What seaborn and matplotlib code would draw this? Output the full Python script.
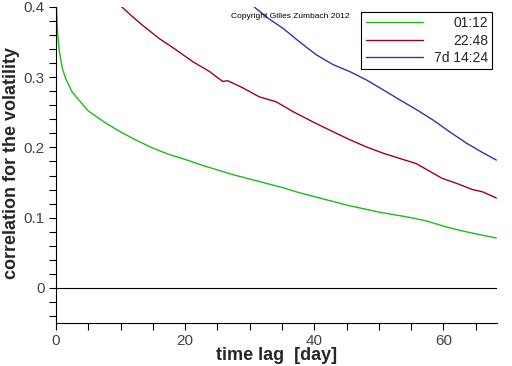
import matplotlib
matplotlib.use("Agg")
import matplotlib.pyplot as plt
from matplotlib.ticker import MultipleLocator
import seaborn as sns
import pandas as pd

# ---- data ----
green_x = [0.05, 0.1, 0.25, 0.5, 1.0, 1.5, 2.5, 3.5, 5, 7.5, 10, 12.5, 15, 17.5, 20,
           22.5, 25, 27.5, 30, 32.5, 35, 37.5, 40, 42.5, 45, 47.5, 50, 52.5, 55,
           57.5, 60, 62.5, 65, 68.2]
green_y = [0.42, 0.395, 0.363, 0.338, 0.312, 0.298, 0.279, 0.268, 0.252, 0.236, 0.222,
           0.21, 0.199, 0.19, 0.183, 0.175, 0.168, 0.161, 0.155, 0.149, 0.143, 0.136,
           0.13, 0.124, 0.118, 0.113, 0.108, 0.104, 0.1, 0.095, 0.088, 0.082, 0.077,
           0.071]
red_x = [10.2, 12, 13.4, 16, 18.6, 21.2, 23.8, 25.8, 26.6, 28.9, 31.5, 34.1, 36.7,
         40.3, 43, 45.5, 48, 50.6, 53, 55.8, 57.5, 59.8, 62, 64.5, 66, 68.2]
red_y = [0.40, 0.385, 0.374, 0.355, 0.339, 0.322, 0.308, 0.294, 0.295, 0.285, 0.272,
         0.265, 0.251, 0.234, 0.222, 0.211, 0.201, 0.192, 0.185, 0.177, 0.168, 0.156,
         0.149, 0.14, 0.137, 0.128]
blue_x = [30.7, 33, 35.1, 37.5, 40.3, 42.9, 45.5, 48.1, 50.5, 53.2, 55.8, 58.4, 61,
          63.6, 66, 68.2]
blue_y = [0.40, 0.383, 0.37, 0.352, 0.332, 0.318, 0.308, 0.296, 0.283, 0.268, 0.254,
          0.239, 0.222, 0.206, 0.193, 0.182]
series_labels = ["01:12", "22:48", "7d 14:24"]
series_colors = ["#1fb81f", "#a0001e", "#3333aa"]
x_ticks = [0, 20, 40, 60]
y_ticks = [0, 0.1, 0.2, 0.3, 0.4]
y_tick_labels = ["0", "0.1", "0.2", "0.3", "0.4"]

df = pd.concat([
    pd.DataFrame({"lag": green_x, "corr": green_y, "series": series_labels[0]}),
    pd.DataFrame({"lag": red_x, "corr": red_y, "series": series_labels[1]}),
    pd.DataFrame({"lag": blue_x, "corr": blue_y, "series": series_labels[2]}),
], ignore_index=True)

sns.set_style("white")
plt.rcParams["font.family"] = ["Liberation Sans", "DejaVu Sans"]

fig = plt.figure(figsize=(5.12, 3.66), dpi=100)
ax = fig.add_axes([56 / 512, 1 - 323 / 366, (497 - 56) / 512, (323 - 7) / 366])

sns.lineplot(data=df, x="lag", y="corr", hue="series", hue_order=series_labels,
             palette=series_colors, linewidth=1.0, ax=ax, sort=False,
             estimator=None, legend=True)

ax.axhline(0, color="black", linewidth=0.8)
ax.set_xlim(0, 68.3)
ax.set_ylim(-0.05, 0.4)
ax.set_xticks(x_ticks)
ax.set_yticks(y_ticks)
ax.set_yticklabels(y_tick_labels)
ax.xaxis.set_minor_locator(MultipleLocator(5))
ax.yaxis.set_minor_locator(MultipleLocator(0.02))
for axis in (ax.xaxis, ax.yaxis):
    axis.set_tick_params(which="both", direction="out", length=5, width=0.8,
                         color="black")
ax.tick_params(axis="x", which="major", labelsize=11, pad=3, labelcolor="#444444")
ax.tick_params(axis="y", which="major", labelsize=11, pad=3, labelcolor="#444444")
ax.tick_params(bottom=True, left=True, which="both")
for s in ["top", "right"]:
    ax.spines[s].set_visible(False)
for s in ["left", "bottom"]:
    ax.spines[s].set_color("black")
    ax.spines[s].set_linewidth(0.8)

ax.set_xlabel("time lag  [day]", fontsize=13, fontweight="bold", va="center")
ax.set_ylabel("correlation for the volatility", fontsize=13, fontweight="bold",
              va="center")
ax.xaxis.set_label_coords((277 - 56) / 441, (323 - 356) / 316)
ax.yaxis.set_label_coords((12 - 56) / 441, (323 - 163) / 316)

# legend
handles, labels = ax.get_legend_handles_labels()
leg = ax.legend(handles, labels, loc="upper right",
                bbox_to_anchor=(492 / 512, 1 - 12 / 366),
                bbox_transform=fig.transFigure, borderaxespad=0,
                fancybox=False, framealpha=1, edgecolor="black", fontsize=10,
                handlelength=4.1, handletextpad=0.8, labelspacing=0.25,
                borderpad=0.3)
leg.get_frame().set_linewidth(0.8)
for line in leg.get_lines():
    line.set_linewidth(1.0)
fig.canvas.draw()
renderer = fig.canvas.get_renderer()
texts = leg.get_texts()
widths = [t.get_window_extent(renderer).width for t in texts]
w = max(widths)
for t, wi in zip(texts, widths):
    t.set_position((w - wi, 0))

fig.text(231 / 512, 1 - 16 / 366, "Copyright Gilles Zumbach 2012", fontsize=6,
         va="center", ha="left", color="black")

fig.savefig("out.png", dpi=100)
